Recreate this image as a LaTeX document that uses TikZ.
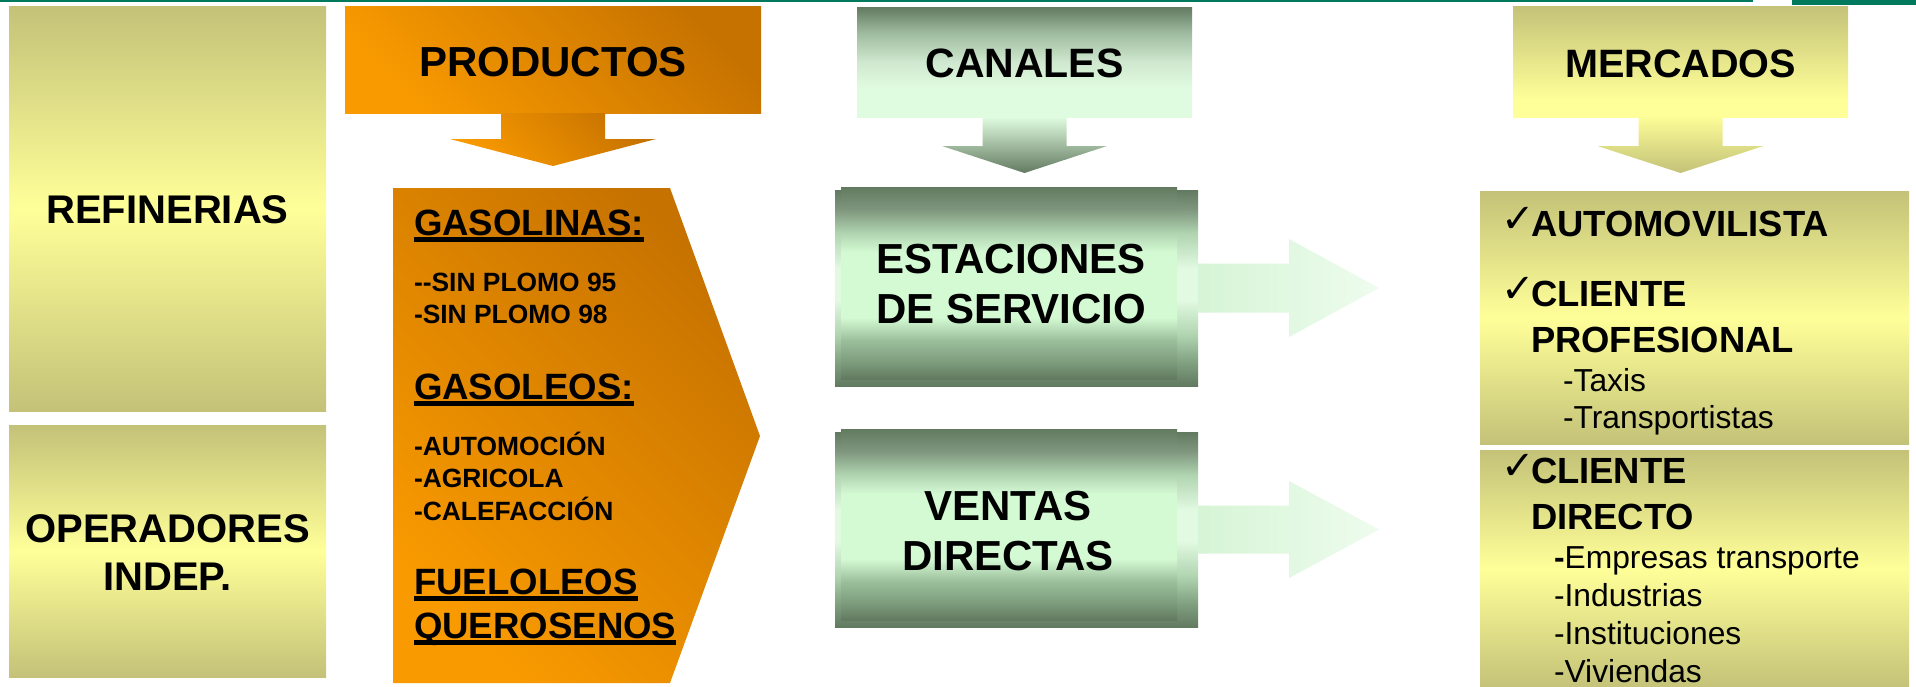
\documentclass[tikz,border=0pt]{standalone}
\usepackage{fontspec}
\setmainfont{Liberation Sans}
\newfontfamily\dejavu{DejaVu Sans}
\usetikzlibrary{calc}

\definecolor{olv}{HTML}{C3C278}
\definecolor{ylw}{HTML}{FFFF99}
\definecolor{gdk}{HTML}{627A60}
\definecolor{glt}{HTML}{D4FAD4}
\definecolor{glt2}{HTML}{E2FAE2}
\definecolor{gmA}{HTML}{80A080}
\definecolor{gmB}{HTML}{9ABE9A}
\definecolor{gmC}{HTML}{B0D4B0}
\definecolor{gmD}{HTML}{7F977E}
\definecolor{ghdA}{HTML}{E0FCE0}
\definecolor{ghdB}{HTML}{A0BCA0}
\definecolor{ghdC}{HTML}{CFE8CF}
\definecolor{ordk}{HTML}{C67200}
\definecolor{orlt}{HTML}{F99A00}
\definecolor{arA}{HTML}{D6F4D6}
\definecolor{arB}{HTML}{EEFCEE}
\definecolor{tealline}{HTML}{00795D}

\pgfdeclareverticalshading{gnface}{100bp}{color(0bp)=(gdk); color(25bp)=(gdk); color(30bp)=(gmA); color(35bp)=(gmB); color(41bp)=(glt); color(58bp)=(glt); color(63bp)=(gmC); color(69bp)=(gmD); color(75bp)=(gdk); color(100bp)=(gdk)}
\pgfdeclareverticalshading{gnback}{100bp}{color(0bp)=(gdk); color(25bp)=(gdk); color(31bp)=(gmA); color(38bp)=(gmC); color(47bp)=(glt2); color(55bp)=(glt2); color(64bp)=(gmC); color(70bp)=(gmD); color(75bp)=(gdk); color(100bp)=(gdk)}
\pgfdeclareverticalshading{gnhead}{100bp}{color(0bp)=(ghdA); color(38bp)=(ghdA); color(50bp)=(ghdC); color(63bp)=(ghdB); color(75bp)=(gdk); color(100bp)=(gdk)}
\pgfdeclareverticalshading{olhead}{100bp}{color(0bp)=(ylw); color(33bp)=(ylw); color(75bp)=(olv); color(100bp)=(olv)}

\newcommand{\ulx}[1]{\setbox0\hbox{#1}\rlap{\rule[-3.4pt]{\wd0}{2.2pt}}\box0}

\tikzset{
  wh/.style 2 args={minimum width={#1*0.5pt}, minimum height={#2*0.5pt}},
  boxn/.style={shade, draw=none, inner sep=0pt, outer sep=0pt},
  olbox/.style={boxn, top color=olv, bottom color=olv, middle color=ylw},
  orsh/.style={shade, top color=ordk, bottom color=orlt, shading angle=-45},
  lbl/.style={inner sep=0pt, outer sep=0pt, text=black},
  hd/.style={lbl, anchor=base, font=\bfseries\fontsize{#1}{#1}\selectfont},
  bigb/.style={lbl, anchor=base west, font=\bfseries\fontsize{18.3}{22}\selectfont},
  smb/.style={lbl, anchor=base west, font=\bfseries\fontsize{13.2}{16}\selectfont},
  mkb/.style={lbl, anchor=base west, font=\bfseries\fontsize{18.2}{22}\selectfont},
  mkr/.style={lbl, anchor=base west, font=\fontsize{15.9}{19}\selectfont},
  chk/.style={lbl, anchor=base west, font=\dejavu\fontsize{20}{22}\selectfont},
  pics/darr/.style n args={4}{code={\path[pic actions] (-#1,0) -- (#1,0) -- (#1,#3) -- (#2,#3) -- (0,{#3+#4}) -- (-#2,#3) -- (-#1,#3) -- cycle;}},
  pics/rarr/.style n args={4}{code={\path[pic actions] (0,-#1) -- (#3,-#1) -- (#3,-#2) -- ({#3+#4},0) -- (#3,#2) -- (#3,#1) -- (0,#1) -- cycle;}},
}

\begin{document}
\begin{tikzpicture}[x=0.5pt,y=-0.5pt]
\useasboundingbox (0,0) rectangle (1916,686);
\fill[white] (0,0) rectangle (1916,686);

% top rule
\fill[tealline] (0,0) rectangle (1753,1.6);
\fill[tealline] (1792,0) rectangle (1916,5);

% left boxes
\node[olbox, wh={317}{405}] (refin) at (167.5,208.5) {};
\node[olbox, wh={317}{252}] (oper) at (167.5,551) {};
\node[hd=20] (trefin) at (167.5,223) {REFINERIAS};
\node[hd=20] (toper1) at (167.5,542) {OPERADORES};
\node[hd=20] (toper2) at (167.5,590) {INDEP.};

% productos
\node[boxn, orsh, wh={416}{107}] (prodhdr) at (553,59.5) {};
\node[hd=21] (tprod) at (553,76) {PRODUCTOS};
\pic[orsh] at (prodhdr.south) {darr={52}{103}{26}{27}};
\path[orsh] (393,188) -- (670,188) -- (760,436) -- (670,683) -- (393,683) -- cycle;
\node[bigb] (p1) at (414,235) {\ulx{GASOLINAS:}};
\node[smb] (p2) at (414,291) {-\kern0pt-SIN PLOMO 95};
\node[smb] (p3) at (414,323) {-SIN PLOMO 98};
\node[bigb] (p4) at (414,399) {\ulx{GASOLEOS:}};
\node[smb] (p5) at (414,455) {-AUTOMOCIÓN};
\node[smb] (p6) at (414,487) {-AGRICOLA};
\node[smb] (p7) at (414,520) {-CALEFACCIÓN};
\node[bigb] (p8) at (414,594) {\ulx{FUELOLEOS}};
\node[bigb] (p9) at (414,638) {\ulx{QUEROSENOS}};

% canales
\node[boxn, shading=gnhead, wh={335}{110}] (canhdr) at (1024.5,62) {};
\node[hd=20.5] (tcan) at (1024.5,77) {CANALES};
\pic[top color=ghdA, bottom color=gdk] at (canhdr.south) {darr={42}{82.5}{29}{27}};

\node[boxn, shading=gnback, wh={363}{196}] (estback) at (1016.5,288) {};
\node[boxn, shading=gnface, wh={336}{192}] (estac) at (1009,283) {};
\node[hd=21] (test1) at (1011,273) {ESTACIONES};
\node[hd=21] (test2) at (1011,323) {DE SERVICIO};
\pic[left color=arA, right color=arB] at (estback.east) {rarr={24.5}{49}{91}{90}};

\node[boxn, shading=gnback, wh={363}{195}] (venback) at (1016.5,529.5) {};
\node[boxn, shading=gnface, wh={336}{191}] (ventas) at (1009,524.5) {};
\node[hd=21] (tven1) at (1008,520) {VENTAS};
\node[hd=21] (tven2) at (1008,570) {DIRECTAS};
\pic[left color=arA, right color=arB] at (venback.east) {rarr={24}{48.5}{91}{90}};

% mercados
\node[boxn, shading=olhead, wh={335}{111}] (merhdr) at (1680.5,61.5) {};
\node[hd=19.8] (tmer) at (1680.5,77) {MERCADOS};
\pic[top color=ylw!95!olv, bottom color=olv] at (merhdr.south) {darr={42}{83}{29}{27}};

\node[olbox, wh={429}{253}] (mk1) at (1694.5,317.5) {};
\node[olbox, wh={429}{238}] (mk2) at (1694.5,569) {};

\node[chk] (c1) at (1501,232) {✓};
\node[mkb] (m1) at (1531,236) {AUTOMOVILISTA};
\node[chk] (c2) at (1501,302) {✓};
\node[mkb] (m2) at (1531,306) {CLIENTE};
\node[mkb] (m3) at (1531,352) {PROFESIONAL};
\node[mkr] (m4) at (1563,391) {-Taxis};
\node[mkr] (m5) at (1563,428) {-Transportistas};
\node[chk] (c3) at (1501,479) {✓};
\node[mkb] (m6) at (1531,483) {CLIENTE};
\node[mkb] (m7) at (1531,529) {DIRECTO};
\node[mkr] (m8) at (1554,568) {{\bfseries -}Empresas transporte};
\node[mkr] (m9) at (1554,606) {-Industrias};
\node[mkr] (m10) at (1554,644) {-Instituciones};
\node[mkr] (m11) at (1554,682) {-Viviendas};
\end{tikzpicture}
\end{document}
